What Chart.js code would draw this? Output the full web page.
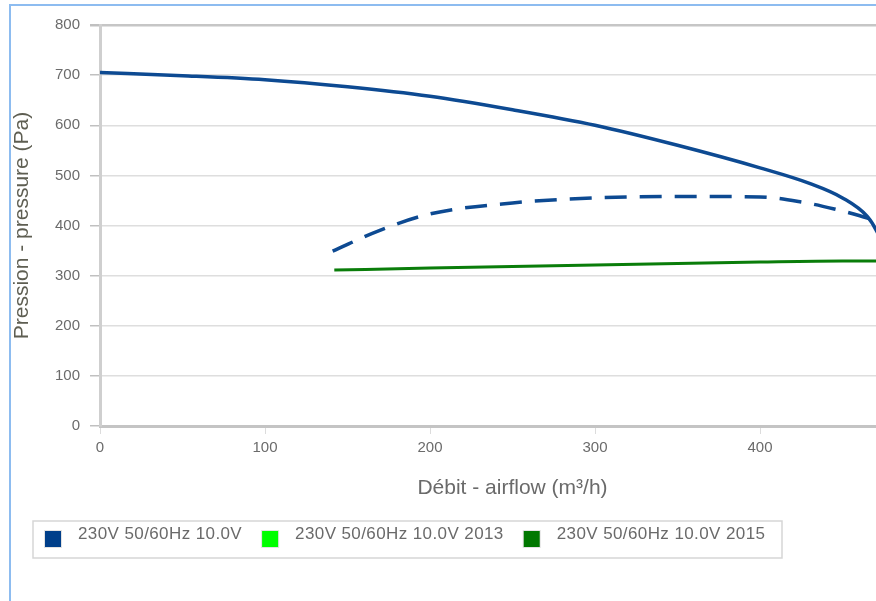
<!DOCTYPE html>
<html>
<head>
<meta charset="utf-8">
<script src="https://cdn.jsdelivr.net/npm/chart.js@4.4.1/dist/chart.umd.min.js"></script>
<style>
  html, body { margin: 0; padding: 0; background: #fff; overflow: hidden; }
  #frame { position: absolute; left: 9px; top: 4px; width: 1100px; height: 700px;
           border-left: 2px solid #8dbcf0; border-top: 2px solid #8dbcf0; }
  #wrap { position: absolute; left: 0; top: 0; width: 1000px; height: 601px; }
</style>
</head>
<body>
<div id="frame"></div>
<div id="wrap"><canvas id="curve"></canvas></div>
<script>
// ==== Données ====
const xTicks = [0, 100, 200, 300, 400, 500];
const yTicks = [0, 100, 200, 300, 400, 500, 600, 700, 800];

// courbe pression 230V 50/60Hz 10.0V
const flowMain  = [0, 50, 100, 150, 200, 250, 300, 350, 400, 430, 450, 465, 471, 478];
const pressMain = [705, 699, 691, 677, 658, 631, 600, 560, 515, 484, 455, 418, 387, 330];

// courbe pointillée (même couleur, hors légende)
const flowDash  = [141, 170, 200, 250, 300, 350, 400, 425, 445, 460, 475];
const pressDash = [349, 391, 423, 445, 455, 458, 457, 447, 433, 420, 404];

// 2013 (pas de points visibles)
const flow2013  = [];
const press2013 = [];

// 2015
const flow2015  = [142, 200, 250, 300, 350, 400, 450, 480];
const press2015 = [311, 315, 318, 321, 324, 327, 329, 329];

const labels = ["230V 50/60Hz 10.0V", "230V 50/60Hz 10.0V 2013", "230V 50/60Hz 10.0V 2015"];

function pts(xs, ys) { return xs.map((x, i) => ({ x: x, y: ys[i] })); }

const BLUE = "#0d4a92";
const LIME = "#00ff00";
const GREEN = "#0a7d0a";
const FONT = "'Liberation Sans', Arial, sans-serif";

// légende encadrée dessinée à la main
const boxLegend = {
  id: 'boxLegend',
  afterDraw(chart) {
    const ctx = chart.ctx;
    ctx.save();
    ctx.strokeStyle = "#d6d6d6";
    ctx.lineWidth = 1.5;
    ctx.strokeRect(33, 521, 749, 37);
    ctx.font = "17px " + FONT;
    ctx.letterSpacing = "0.4px";
    ctx.textBaseline = "middle";
    let x = 45;
    chart.data.datasets.forEach(ds => {
      if (ds.inLegend === false) return;
      ctx.fillStyle = "#e2e2e2";
      ctx.fillRect(x - 1, 530, 18, 18);
      ctx.fillStyle = ds.legendColor;
      ctx.fillRect(x, 531, 16, 16);
      ctx.fillStyle = "#6a6a6a";
      ctx.fillText(ds.label, x + 33, 534);
      x += 33 + ctx.measureText(ds.label).width + 20;
    });
    ctx.restore();
  }
};

new Chart(document.getElementById('curve'), {
  type: 'line',
  data: {
    datasets: [
      { label: labels[0], data: pts(flowMain, pressMain), borderColor: BLUE, legendColor: "#003f8a",
        borderWidth: 3.5, cubicInterpolationMode: 'monotone' },
      { label: "dash", inLegend: false, data: pts(flowDash, pressDash), borderColor: BLUE,
        borderWidth: 3.5, borderDash: [22, 13], cubicInterpolationMode: 'monotone' },
      { label: labels[1], data: pts(flow2013, press2013), borderColor: LIME, legendColor: LIME, borderWidth: 3 },
      { label: labels[2], data: pts(flow2015, press2015), borderColor: GREEN, legendColor: "#007800",
        borderWidth: 3, cubicInterpolationMode: 'monotone' }
    ]
  },
  options: {
    responsive: true,
    maintainAspectRatio: false,
    animation: false,
    layout: { padding: { left: 10, top: 25, right: 75, bottom: 100 } },
    elements: { point: { radius: 0 } },
    plugins: { legend: { display: false }, tooltip: { enabled: false } },
    scales: {
      x: {
        type: 'linear', min: xTicks[0], max: xTicks[xTicks.length - 1],
        afterBuildTicks: s => { s.ticks = xTicks.map(v => ({ value: v })); },
        afterFit: s => { s.height = 75; },
        border: { color: '#c4c4c4', width: 3 },
        grid: { drawOnChartArea: false, tickLength: 8, tickColor: '#dcdcdc' },
        ticks: { color: '#6b6b6b', padding: 5, font: { family: FONT, size: 15 } },
        title: { display: true, text: 'Débit - airflow (m³/h)', color: '#6a6a6a',
                 padding: { top: 0, bottom: 0 }, font: { family: FONT, size: 21 } }
      },
      y: {
        min: yTicks[0], max: yTicks[yTicks.length - 1],
        afterBuildTicks: s => { s.ticks = yTicks.map(v => ({ value: v })); },
        afterFit: s => { s.width = 90; },
        border: { color: '#cfcfcf', width: 3 },
        grid: {
          color: c => c.tick && c.tick.value === 800 ? '#c6c6c6' : '#dedede',
          lineWidth: c => c.tick && c.tick.value === 800 ? 2.5 : 1.5,
          tickLength: 10, tickColor: '#c0c0c0'
        },
        ticks: { color: '#6b6b6b', padding: 10, font: { family: FONT, size: 15 } },
        title: { display: true, text: 'Pression - pressure (Pa)', color: '#5e5e52',
                 padding: { top: 0, bottom: 0 }, font: { family: FONT, size: 21 } }
      }
    }
  },
  plugins: [boxLegend]
});
</script>
</body>
</html>
